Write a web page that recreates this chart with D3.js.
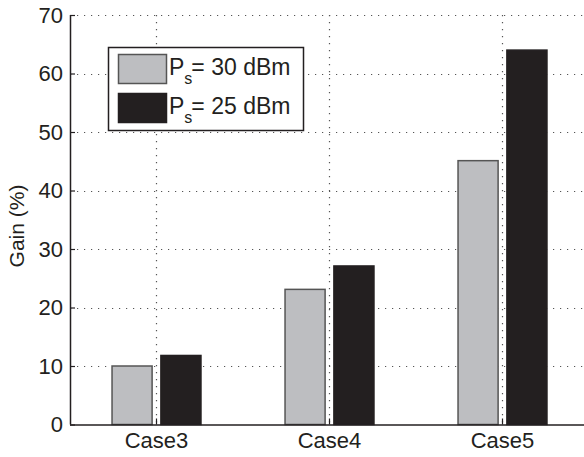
<!DOCTYPE html>
<html>
<head>
<meta charset="utf-8">
<script src="https://cdn.jsdelivr.net/npm/d3@7"></script>
<style>
  body { margin: 0; background: #fff; }
  svg { display: block; font-family: "Liberation Sans", Arial, Helvetica, sans-serif; }
</style>
</head>
<body>
<svg id="chart"></svg>
<script>
// values
const categories = ["Case3", "Case4", "Case5"];
const seriesNames = ["30", "25"];
const gain30 = [10, 23.1, 45.1];
const gain25 = [11.8, 27.1, 64];
const yTicks = [0, 10, 20, 30, 40, 50, 60, 70];

const width = 584, height = 457;
const plotLeft = 70, plotRight = 589, plotTop = 15, plotBottom = 424.5;
const fills = { "30": "#bdbec1", "25": "#231f20" };
const strokes = { "30": "#555", "25": "#231f20" };

const svg = d3.select("#chart").attr("width", width).attr("height", height);

let x = d3.scaleBand().domain(categories).range([plotLeft, plotRight]).padding(0);
let xSub = d3.scaleBand().domain(seriesNames)
    .range([-x.bandwidth() * 0.257, x.bandwidth() * 0.257]).paddingInner(0.18);
let y = d3.scaleLinear().domain([0, 70]).range([plotBottom, plotTop]);

let rows = categories.map((c, i) => ({ cat: c, values: [
    { key: "30", v: gain30[i] }, { key: "25", v: gain25[i] }] }));

// grid (dotted)
let grid = svg.append("g").attr("stroke", "#555").attr("stroke-width", 1.2)
    .attr("stroke-dasharray", "1.2,5.8");
grid.selectAll("line.h").data(yTicks.filter(d => d > 0)).enter().append("line")
    .attr("x1", plotLeft).attr("x2", plotRight)
    .attr("y1", d => Math.round(y(d)) + 0.5).attr("y2", d => Math.round(y(d)) + 0.5);
grid.selectAll("line.v").data(categories).enter().append("line")
    .attr("x1", d => x(d) + x.bandwidth() / 2).attr("x2", d => x(d) + x.bandwidth() / 2)
    .attr("y1", plotTop).attr("y2", plotBottom);

// bars
let groups = svg.append("g").selectAll("g").data(rows).enter().append("g")
    .attr("transform", d => "translate(" + (x(d.cat) + x.bandwidth() / 2) + ",0)");
groups.selectAll("rect").data(d => d.values).enter().append("rect")
    .attr("x", d => xSub(d.key))
    .attr("width", xSub.bandwidth())
    .attr("y", d => y(d.v))
    .attr("height", d => y(0) - y(d.v))
    .attr("fill", d => fills[d.key])
    .attr("stroke", d => strokes[d.key])
    .attr("stroke-width", 1.5);

// axes, ticks pointing inwards
let yAxis = svg.append("g").attr("transform", "translate(" + plotLeft + ",0)")
    .call(d3.axisLeft(y).tickValues(yTicks).tickSize(-5).tickPadding(8));
let xAxis = svg.append("g").attr("transform", "translate(0," + plotBottom + ")")
    .call(d3.axisBottom(x).tickSize(-6).tickPadding(10));
[yAxis, xAxis].forEach(a => {
    a.select(".domain").attr("stroke", "#231f20").attr("stroke-width", 1.5);
    a.selectAll(".tick line").attr("stroke", "#231f20").attr("stroke-width", 1.2);
    a.selectAll("text").attr("font-size", 22).attr("fill", "#231f20")
        .attr("font-family", "Liberation Sans, Arial, sans-serif");
});
yAxis.select(".domain").attr("d", "M0.5," + plotBottom + "V" + plotTop);
xAxis.select(".domain").attr("d", "M" + plotLeft + ",0.5H" + plotRight);
xAxis.selectAll("text").attr("y", 23.5).attr("dy", "0");
yAxis.selectAll("text").attr("x", -7);

svg.append("text")
    .attr("transform", "translate(24,226) rotate(-90)")
    .attr("text-anchor", "middle")
    .attr("font-size", 21).attr("fill", "#231f20")
    .text("Gain (%)");

// legend
let legend = svg.append("g");
legend.append("rect").attr("x", 108.5).attr("y", 47.5).attr("width", 195).attr("height", 83)
    .attr("fill", "#fff").attr("stroke", "#231f20").attr("stroke-width", 1.5);
let legendLabels = ["30 dBm", "25 dBm"];
seriesNames.forEach((s, i) => {
    let yy = 54 + i * 39;
    legend.append("rect").attr("x", 118.5).attr("y", yy + 0.5).attr("width", 48).attr("height", 29)
        .attr("fill", fills[s]).attr("stroke", strokes[s]).attr("stroke-width", 1.5);
    let t = legend.append("text").attr("x", 169).attr("y", yy + 21)
        .attr("font-size", 23).attr("fill", "#231f20");
    t.append("tspan").text("P");
    t.append("tspan").attr("dy", 9).attr("font-size", 16).text("s");
    t.append("tspan").attr("dy", -9).attr("dx", -1).text("= " + legendLabels[i]);
});
</script>
</body>
</html>
